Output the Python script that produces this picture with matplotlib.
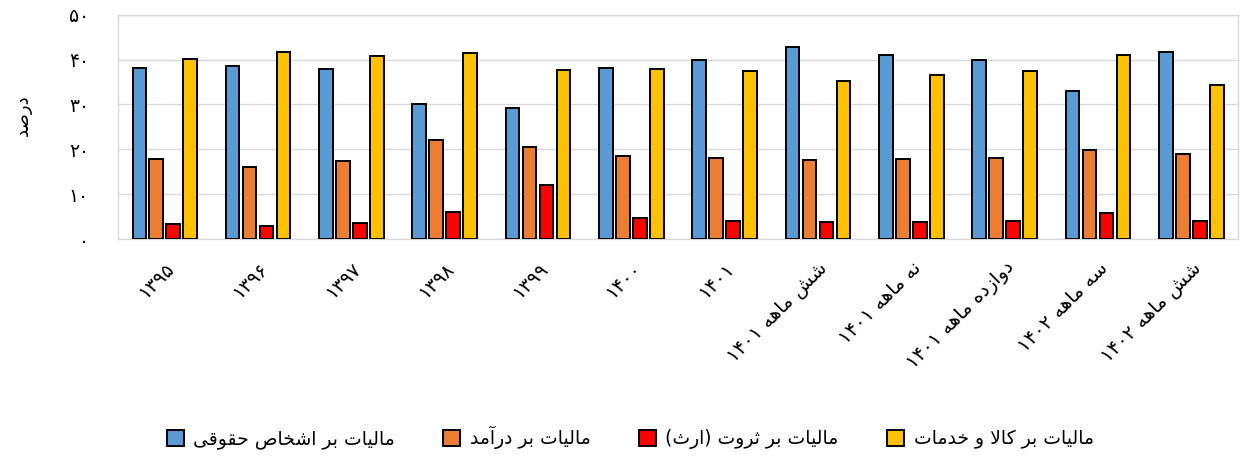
import numpy as np
import matplotlib.pyplot as plt
from matplotlib.patches import Patch

# Persian letter forms: isolated, final, initial, medial (None = right-joining only)
FORMS = {
    'ا': ('\uFE8D', '\uFE8E', None, None),
    'آ': ('\uFE81', '\uFE82', None, None),
    'ب': ('\uFE8F', '\uFE90', '\uFE91', '\uFE92'),
    'ت': ('\uFE95', '\uFE96', '\uFE97', '\uFE98'),
    'ث': ('\uFE99', '\uFE9A', '\uFE9B', '\uFE9C'),
    'ح': ('\uFEA1', '\uFEA2', '\uFEA3', '\uFEA4'),
    'خ': ('\uFEA5', '\uFEA6', '\uFEA7', '\uFEA8'),
    'د': ('\uFEA9', '\uFEAA', None, None),
    'ر': ('\uFEAD', '\uFEAE', None, None),
    'ز': ('\uFEAF', '\uFEB0', None, None),
    'س': ('\uFEB1', '\uFEB2', '\uFEB3', '\uFEB4'),
    'ش': ('\uFEB5', '\uFEB6', '\uFEB7', '\uFEB8'),
    'ص': ('\uFEB9', '\uFEBA', '\uFEBB', '\uFEBC'),
    'ق': ('\uFED5', '\uFED6', '\uFED7', '\uFED8'),
    'ل': ('\uFEDD', '\uFEDE', '\uFEDF', '\uFEE0'),
    'م': ('\uFEE1', '\uFEE2', '\uFEE3', '\uFEE4'),
    'ن': ('\uFEE5', '\uFEE6', '\uFEE7', '\uFEE8'),
    'ه': ('\uFEE9', '\uFEEA', '\uFEEB', '\uFEEC'),
    'و': ('\uFEED', '\uFEEE', None, None),
    'ک': ('\uFB8E', '\uFB8F', '\uFB90', '\uFB91'),
    'ی': ('\uFBFC', '\uFBFD', '\uFBFE', '\uFBFF'),
}
LAM_ALEF = {'ا': ('\uFEFB', '\uFEFC'), 'آ': ('\uFEF5', '\uFEF6')}
MIRROR = {'(': ')', ')': '('}


def joins_forward(c):
    return c in FORMS and FORMS[c][2] is not None


def fa(text):
    # contextual shaping
    out = []
    i = 0
    while i < len(text):
        c = text[i]
        prev = text[i - 1] if i > 0 else ''
        nxt = text[i + 1] if i + 1 < len(text) else ''
        if c not in FORMS:
            out.append(c)
            i += 1
            continue
        jp = joins_forward(prev)
        if c == 'ل' and nxt in LAM_ALEF:
            out.append(LAM_ALEF[nxt][1 if jp else 0])
            i += 2
            continue
        jn = joins_forward(c) and nxt in FORMS
        iso, fin, ini, med = FORMS[c]
        if jp and jn:
            out.append(med)
        elif jp:
            out.append(fin)
        elif jn:
            out.append(ini)
        else:
            out.append(iso)
        i += 1
    # right-to-left visual order, digit runs stay left-to-right
    runs, cur, cur_digit = [], '', None
    for ch in out:
        d = '\u06F0' <= ch <= '\u06F9'
        if cur and d != cur_digit:
            runs.append((cur, cur_digit))
            cur = ''
        cur += ch
        cur_digit = d
    if cur:
        runs.append((cur, cur_digit))
    vis = ''
    for run, d in reversed(runs):
        vis += run if d else ''.join(MIRROR.get(ch, ch) for ch in reversed(run))
    return vis


# Data (percent share of tax revenue)
periods = ['۱۳۹۵', '۱۳۹۶', '۱۳۹۷', '۱۳۹۸', '۱۳۹۹', '۱۴۰۰', '۱۴۰۱',
           'شش ماهه ۱۴۰۱', 'نه ماهه ۱۴۰۱', 'دوازده ماهه ۱۴۰۱',
           'سه ماهه ۱۴۰۲', 'شش ماهه ۱۴۰۲']
corporate = [38.2, 38.5, 37.8, 30.0, 29.1, 38.1, 39.8, 42.8, 41.0, 39.8, 33.0, 41.7]
income = [17.8, 16.1, 17.3, 22.1, 20.5, 18.6, 18.0, 17.6, 17.8, 18.1, 19.8, 19.0]
wealth = [3.3, 3.0, 3.6, 6.1, 12.0, 4.7, 4.1, 3.7, 3.7, 4.1, 5.7, 4.1]
goods = [40.2, 41.7, 40.7, 41.5, 37.6, 37.8, 37.4, 35.3, 36.6, 37.4, 40.9, 34.3]

series_names = ['مالیات بر اشخاص حقوقی', 'مالیات بر درآمد',
                'مالیات بر ثروت (ارث)', 'مالیات بر کالا و خدمات']
colors = ['#5B9BD5', '#ED7D31', '#FF0000', '#FFC000']
yticks = [0, 10, 20, 30, 40, 50]
ytick_labels = ['۰', '۱۰', '۲۰', '۳۰', '۴۰', '۵۰']

plt.rcParams['font.family'] = ['DejaVu Sans']

fig = plt.figure(figsize=(12.43, 4.57), dpi=100)
ax = fig.add_axes([0.095, 0.477, 0.901, 0.491])

x = np.arange(len(periods))
width = 0.145
step = 0.182
for k, (vals, col) in enumerate(zip([corporate, income, wealth, goods], colors)):
    ax.bar(x + (k - 1.5) * step, vals, width, color=col,
           edgecolor='black', linewidth=1.4, zorder=3)

ax.set_xlim(-0.5, len(periods) - 0.5)
ax.set_ylim(0, 50)
ax.set_yticks(yticks)
ax.set_yticklabels(ytick_labels, fontsize=13.5)
ax.set_xticks(x)
ax.set_xticklabels([fa(p) for p in periods], rotation=45, ha='right',
                   rotation_mode='anchor', fontsize=14)
ax.tick_params(axis='both', length=0)
ax.tick_params(axis='y', pad=21)
ax.tick_params(axis='x', pad=14)
ax.grid(axis='y', color='#D9D9D9', linewidth=1, zorder=0)
for s in ax.spines.values():
    s.set_color('#D9D9D9')
    s.set_linewidth(1)

ax.set_ylabel(fa('درصد'), fontsize=13)
ax.yaxis.set_label_coords(-0.077, 0.55)

handles = [Patch(facecolor=c, edgecolor='black', linewidth=1.4) for c in colors]
fig.legend(handles, [fa(n) for n in series_names], loc='center',
           bbox_to_anchor=(0.507, 0.042), ncol=4, frameon=False, fontsize=13.5,
           handlelength=0.9, handleheight=0.9, handletextpad=0.5,
           columnspacing=2.6)

fig.savefig('out.png', dpi=100)
